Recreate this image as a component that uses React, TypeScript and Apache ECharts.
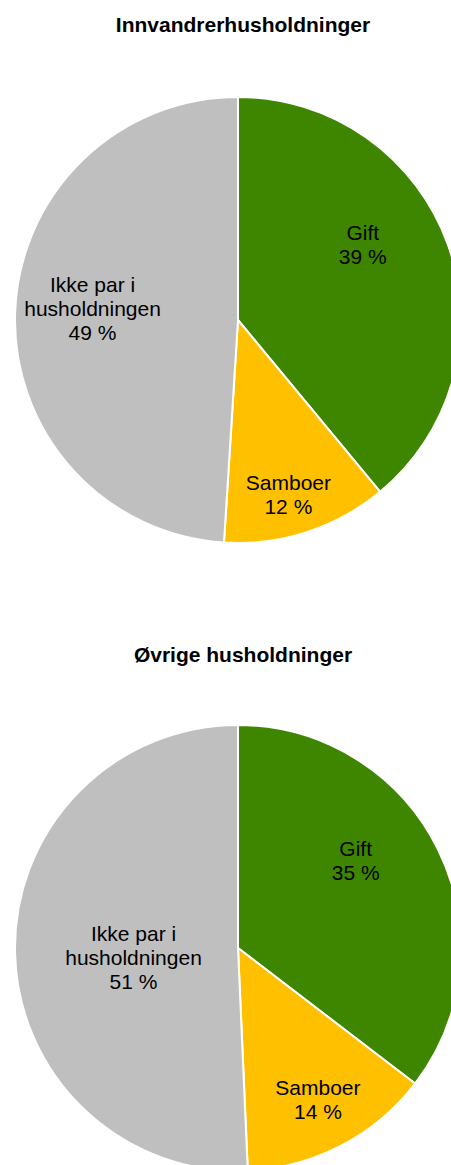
import React, { useEffect, useRef } from "react";
import * as echarts from "echarts";

const categories = ["Gift", "Samboer", "Ikke par i\nhusholdningen"];
const titles = ["Innvandrerhusholdninger", "Øvrige husholdninger"];
const values1 = [39, 12, 49];
const values2 = [35.4, 13.9, 50.7];
const colors = ["#3F8600", "#FFC000", "#BFBFBF"];

const offsets1 = [[17, -37], [15, 66], [-31, -8]];
const offsets2 = [[15, -37], [27, 50], [10, 7]];

function buildData(values: number[], offsets: number[][]) {
  return values.map((v, i) => ({
    name: categories[i],
    value: v,
    itemStyle: { color: colors[i] },
    label: { offset: offsets[i] },
  }));
}

export default function App() {
  const ref = useRef<HTMLDivElement>(null);
  useEffect(() => {
    if (!ref.current) return;
    const chart = echarts.init(ref.current, undefined, { renderer: "svg" });
    const font = "Liberation Sans, Arial, sans-serif";
    const labelCfg = {
      show: true,
      position: "inside",
      formatter: (p: any) => `${p.name}\n${Math.round(p.value)} %`,
      color: "#000",
      fontSize: 21,
      lineHeight: 24,
      fontFamily: font,
    };
    const pieBase = {
      type: "pie",
      radius: 223,
      startAngle: 90,
      clockwise: true,
      avoidLabelOverlap: false,
      labelLine: { show: false },
      itemStyle: { borderColor: "#fff", borderWidth: 2 },
      emphasis: { disabled: true },
      label: labelCfg,
    };
    const titleStyle = { fontSize: 21, fontWeight: "bold", color: "#000", fontFamily: font };
    chart.setOption({
      animation: false,
      backgroundColor: "#fff",
      title: [
        { text: titles[0], left: 238, top: 9, textAlign: "center", textStyle: titleStyle },
        { text: titles[1], left: 238, top: 639, textAlign: "center", textStyle: titleStyle },
      ],
      series: [
        { ...pieBase, center: [238, 320], data: buildData(values1, offsets1) },
        { ...pieBase, center: [238, 948], data: buildData(values2, offsets2) },
      ],
    });
    return () => chart.dispose();
  }, []);
  return (
    <div
      ref={ref}
      style={{ position: "absolute", left: 0, top: 0, width: 451, height: 1165 }}
    />
  );
}
